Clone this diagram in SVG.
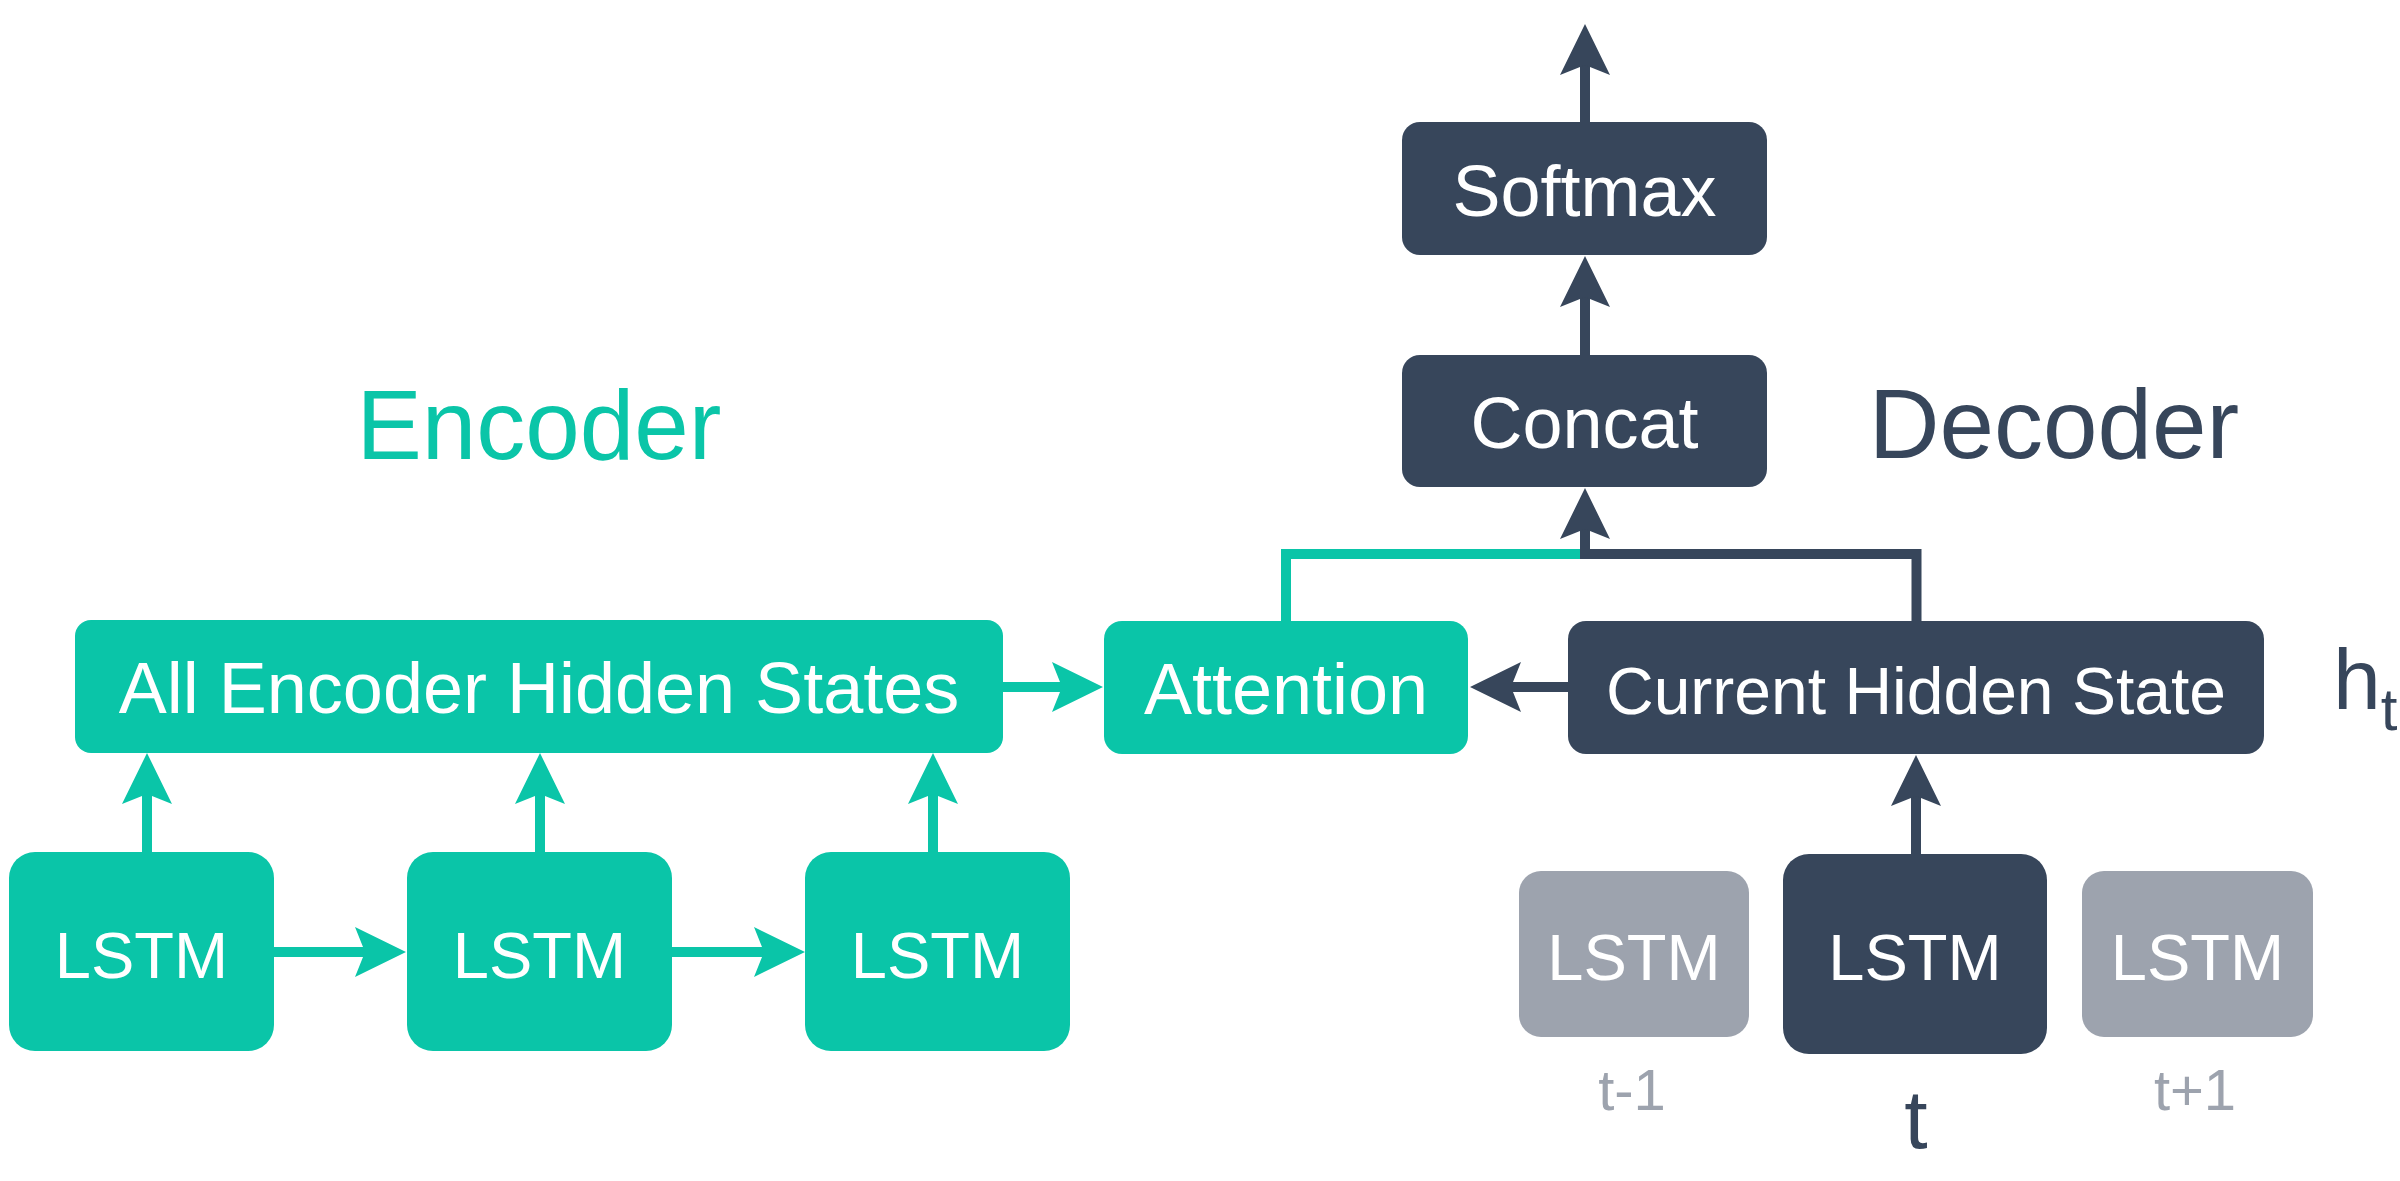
<svg xmlns="http://www.w3.org/2000/svg" width="2400" height="1181" viewBox="0 0 2400 1181">
  <style>
    text { font-family: "Liberation Sans", Arial, sans-serif; text-anchor: middle; }
    .g { fill: #0AC5A8; }
    .d { fill: #37465B; }
    .gr { fill: #9DA3AE; }
    .lbl { fill: #FFFFFF; }
    .box { font-size: 72px; }
    .lstm { font-size: 65px; }
    .cg { stroke: #0AC5A8; stroke-width: 10; fill: none; }
    .cd { stroke: #37465B; stroke-width: 10; fill: none; }
  </style>
  <defs>
    <marker id="ahg" markerUnits="userSpaceOnUse" viewBox="-52 -26 54 52" markerWidth="54" markerHeight="52" refX="-38" refY="0" orient="auto" overflow="visible">
      <path d="M0,0 L-51,-25 L-41,0 L-51,25 Z" fill="#0AC5A8"/>
    </marker>
    <marker id="ahd" markerUnits="userSpaceOnUse" viewBox="-52 -26 54 52" markerWidth="54" markerHeight="52" refX="-38" refY="0" orient="auto" overflow="visible">
      <path d="M0,0 L-51,-25 L-41,0 L-51,25 Z" fill="#37465B"/>
    </marker>
  </defs>

  <g id="titles">
    <text x="539" y="459" font-size="98" class="g">Encoder</text>
    <text x="2054" y="458" font-size="98" class="d">Decoder</text>
  </g>

  <g id="connectors">
    <line class="cg" x1="274" y1="952" x2="368" y2="952" marker-end="url(#ahg)"/>
    <line class="cg" x1="672" y1="952" x2="767" y2="952" marker-end="url(#ahg)"/>
    <line class="cg" x1="147" y1="852" x2="147" y2="791" marker-end="url(#ahg)"/>
    <line class="cg" x1="540" y1="852" x2="540" y2="791" marker-end="url(#ahg)"/>
    <line class="cg" x1="933" y1="852" x2="933" y2="791" marker-end="url(#ahg)"/>
    <line class="cg" x1="1003" y1="687" x2="1065" y2="687" marker-end="url(#ahg)"/>
    <line class="cd" x1="1568" y1="687" x2="1508" y2="687" marker-end="url(#ahd)"/>
    <polyline class="cg" points="1286,621 1286,554 1580,554" stroke-linejoin="miter"/>
    <polyline class="cd" points="1916.5,621 1916.5,554 1580,554" stroke-linejoin="miter"/>
    <line class="cd" x1="1585" y1="559" x2="1585" y2="526" marker-end="url(#ahd)"/>
    <line class="cd" x1="1585" y1="355" x2="1585" y2="294" marker-end="url(#ahd)"/>
    <line class="cd" x1="1585" y1="122" x2="1585" y2="62" marker-end="url(#ahd)"/>
    <line class="cd" x1="1916" y1="854" x2="1916" y2="793" marker-end="url(#ahd)"/>
  </g>

  <g id="enc-lstm1">
    <rect x="9" y="852" width="265" height="199" rx="26" class="g"/>
    <text x="141.5" y="978" class="lbl lstm">LSTM</text>
  </g>
  <g id="enc-lstm2">
    <rect x="407" y="852" width="265" height="199" rx="26" class="g"/>
    <text x="539.5" y="978" class="lbl lstm">LSTM</text>
  </g>
  <g id="enc-lstm3">
    <rect x="805" y="852" width="265" height="199" rx="26" class="g"/>
    <text x="937.5" y="978" class="lbl lstm">LSTM</text>
  </g>
  <g id="all-encoder-hidden-states">
    <rect x="75" y="620" width="928" height="133" rx="16" class="g"/>
    <text x="539" y="713" class="lbl box">All Encoder Hidden States</text>
  </g>
  <g id="attention">
    <rect x="1104" y="621" width="364" height="133" rx="18" class="g"/>
    <text x="1286" y="714" class="lbl box">Attention</text>
  </g>
  <g id="current-hidden-state">
    <rect x="1568" y="621" width="696" height="133" rx="18" class="d"/>
    <text x="1916" y="714" class="lbl" font-size="66">Current Hidden State</text>
  </g>
  <g id="concat">
    <rect x="1402" y="355" width="365" height="132" rx="18" class="d"/>
    <text x="1584.5" y="448" class="lbl box">Concat</text>
  </g>
  <g id="softmax">
    <rect x="1402" y="122" width="365" height="133" rx="18" class="d"/>
    <text x="1584.5" y="216" class="lbl box">Softmax</text>
  </g>
  <g id="dec-lstm-prev">
    <rect x="1519" y="871" width="230" height="166" rx="22" class="gr"/>
    <text x="1634" y="980" class="lbl lstm">LSTM</text>
  </g>
  <g id="dec-lstm-t">
    <rect x="1783" y="854" width="264" height="200" rx="26" class="d"/>
    <text x="1915" y="980" class="lbl lstm">LSTM</text>
  </g>
  <g id="dec-lstm-next">
    <rect x="2082" y="871" width="231" height="166" rx="22" class="gr"/>
    <text x="2197.5" y="980" class="lbl lstm">LSTM</text>
  </g>

  <g id="labels">
    <text x="1632" y="1110" font-size="58" class="gr">t-1</text>
    <text x="1916" y="1148" font-size="84" class="d">t</text>
    <text x="2195" y="1110" font-size="58" class="gr">t+1</text>
    <text x="2333" y="709" font-size="86" class="d" style="text-anchor:start">h<tspan font-size="60" dy="21">t</tspan></text>
  </g>
</svg>
